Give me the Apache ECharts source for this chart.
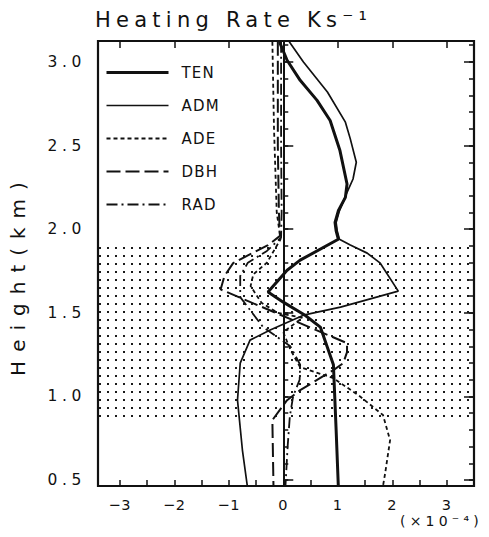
<!DOCTYPE html>
<html>
<head>
<meta charset="utf-8">
<script src="https://cdn.jsdelivr.net/npm/echarts@6/dist/echarts.min.js"></script>
<style>
  html, body { margin: 0; padding: 0; background: #fff; }
  #chart { width: 489px; height: 537px; }
  /* plotter-style wide lettering */
  #chart text { letter-spacing: 0.3em; }
  #chart text[style*="15px"] { letter-spacing: 0.08em; }
  #chart text[style*="14.5px"] { letter-spacing: 0.04em; }
  #chart text[style*="20px"] { letter-spacing: 0.45em; }
  #chart text[style*="21px"] { letter-spacing: 0.25em; }
</style>
</head>
<body>
<div id="chart"></div>
<script>
// heating rate profiles, x in 1e-4 K/s, height in km
const tenH = [3.12, 3.01, 2.89, 2.77, 2.65, 2.47, 2.27, 2.19, 2.11, 2.04, 1.99, 1.94, 1.815, 1.755, 1.624, 1.564, 1.486, 1.415, 1.19, 0.80, 0.465];
const tenX = [-0.07, 0.07, 0.31, 0.62, 0.86, 1.04, 1.17, 1.14, 1.01, 0.95, 0.97, 1.01, 0.31, 0.07, -0.28, 0.0, 0.40, 0.68, 0.92, 0.97, 1.01];

const admH = [3.12, 3.0, 2.82, 2.64, 2.54, 2.40, 2.30, 2.22, 2.11, 2.04, 1.99, 1.94, 1.905, 1.857, 1.797, 1.63, 1.534, 1.486, 1.397, 1.337, 1.199, 0.978, 0.68, 0.465];
const admX = [0.11, 0.37, 0.81, 1.14, 1.23, 1.34, 1.28, 1.17, 1.03, 0.97, 0.99, 1.03, 1.23, 1.54, 1.78, 2.11, 1.05, 0.37, -0.24, -0.61, -0.79, -0.84, -0.75, -0.66];

const adeH = [3.12, 2.6, 2.1, 1.94, 1.80, 1.73, 1.66, 1.56, 1.50, 1.47, 1.385, 1.28, 1.175, 1.11, 1.0, 0.889, 0.739, 0.542, 0.465];
const adeX = [-0.2, -0.17, -0.12, -0.05, -0.3, -0.55, -0.6, -0.4, -0.1, 0.35, 0.0, 0.13, 0.31, 0.92, 1.41, 1.83, 1.96, 1.87, 1.83];

const dbhH = [3.12, 2.5, 2.1, 1.96, 1.905, 1.845, 1.797, 1.72, 1.64, 1.319, 1.265, 1.199, 1.158, 1.038, 0.978, 0.859, 0.465];
const dbhX = [-0.1, -0.1, -0.08, -0.06, -0.28, -0.64, -0.92, -1.08, -1.15, 1.17, 1.17, 1.10, 0.92, 0.31, 0.07, -0.2, -0.18];

const radH = [3.12, 2.5, 2.1, 1.95, 1.87, 1.80, 1.72, 1.594, 1.415, 1.30, 1.19, 1.10, 1.0, 0.88, 0.70, 0.465];
const radX = [-0.04, -0.04, -0.03, -0.04, -0.3, -0.65, -0.79, -0.79, -0.37, 0.13, 0.31, 0.30, 0.18, 0.12, 0.08, 0.04];

// stippled layer
const layerBottom = 0.87;
const layerTop = 1.895;

const xTickLabels = [-3, -2, -1, 0, 1, 2, 3];
const xMinorTicks = [-3, -2.5, -2, -1.5, -1, -0.5, 0, 0.5, 1, 1.5, 2, 2.5, 3];
const yTickLabels = [0.5, 1.0, 1.5, 2.0, 2.5, 3.0];
const yMinorTicks = [0.5, 0.6, 0.7, 0.8, 0.9, 1.0, 1.1, 1.2, 1.3, 1.4, 1.5, 1.6, 1.7, 1.8, 1.9,
  2.0, 2.1, 2.2, 2.3, 2.4, 2.5, 2.6, 2.7, 2.8, 2.9, 3.0, 3.1];

const ink = "#111";
const font = "DejaVu Sans";

function pairs(xs, hs) {
  return xs.map((x, i) => [x, hs[i]]);
}

// dot tile for the stippling
const tile = document.createElement("canvas");
tile.width = 8;
tile.height = 8;
const tctx = tile.getContext("2d");
tctx.fillStyle = "#1a1a1a";
tctx.fillRect(3, 7, 2, 1);
tctx.fillRect(3, 0, 2, 1);

const xRange = { min: -3.4, max: 3.5 };
const yRange = { min: 0.465, max: 3.125 };

function tickAxis(extra) {
  return Object.assign({
    type: "value",
    axisLine: { show: false },
    splitLine: { show: false },
    axisLabel: { show: false }
  }, extra);
}

function lineSeries(name, data, width, type) {
  return {
    name: name,
    type: "line",
    data: data,
    showSymbol: false,
    symbol: "none",
    silent: true,
    lineStyle: { color: ink, width: width, type: type },
    itemStyle: { color: ink }
  };
}

const chart = echarts.init(document.getElementById("chart"), null, { renderer: "svg" });

const series = [
  lineSeries("TEN", pairs(tenX, tenH), 3, "solid"),
  lineSeries("ADM", pairs(admX, admH), 1.7, "solid"),
  lineSeries("ADE", pairs(adeX, adeH), 1.8, [4, 3]),
  lineSeries("DBH", pairs(dbhX, dbhH), 2, [14, 5]),
  lineSeries("RAD", pairs(radX, radH), 1.8, [11, 4, 2, 4])
];
series[0].markLine = {
  silent: true,
  symbol: ["none", "none"],
  label: { show: false },
  lineStyle: { color: ink, width: 2, type: "solid" },
  data: [{ xAxis: 0 }]
};
series[0].markArea = {
  silent: true,
  itemStyle: {
    color: { image: tile, repeat: "repeat", imageWidth: 8, imageHeight: 8 }
  },
  data: [[{ yAxis: layerBottom }, { yAxis: layerTop }]]
};

chart.setOption({
  animation: false,
  backgroundColor: "#fff",
  textStyle: { fontFamily: font, color: ink },
  title: {
    text: "Heating Rate Ks⁻¹",
    left: 90,
    top: 4,
    textStyle: { fontFamily: font, fontSize: 21, fontWeight: "normal", color: ink }
  },
  legend: {
    orient: "vertical",
    left: 100,
    top: 60,
    itemWidth: 62,
    itemHeight: 14,
    itemGap: 18,
    selectedMode: false,
    itemStyle: { opacity: 0, borderWidth: 0 },
    lineStyle: { width: "inherit" },
    textStyle: { fontFamily: font, fontSize: 15, color: ink, padding: [0, 0, 0, 8] },
    data: ["TEN", "ADM", "ADE", "DBH", "RAD"]
  },
  grid: {
    left: 97,
    right: 15,
    top: 41,
    bottom: 51,
    show: true,
    borderColor: ink,
    borderWidth: 2.2,
    backgroundColor: "transparent"
  },
  xAxis: [
    tickAxis(Object.assign({
      position: "bottom",
      axisTick: { inside: true, length: 6, customValues: xMinorTicks, lineStyle: { color: ink, width: 1.5 } },
      axisLabel: {
        show: true,
        customValues: xTickLabels,
        margin: 11,
        fontSize: 14.5,
        fontFamily: font,
        color: ink,
        formatter: v => (v < 0 ? "−" + Math.abs(v) : String(v))
      }
    }, xRange)),
    tickAxis(Object.assign({
      position: "top",
      axisTick: { inside: true, length: 7, customValues: xTickLabels, lineStyle: { color: ink, width: 1.5 } }
    }, xRange))
  ],
  yAxis: [
    tickAxis(Object.assign({
      position: "left",
      name: "Height(km)",
      nameLocation: "middle",
      nameGap: 70,
      nameTextStyle: { fontFamily: font, fontSize: 20, color: ink, padding: [0, 22, 0, 0] },
      axisTick: { inside: true, length: 5, customValues: yMinorTicks, lineStyle: { color: ink, width: 1.5 } },
      axisLabel: {
        show: true,
        customValues: yTickLabels,
        margin: 12,
        fontSize: 15.5,
        fontFamily: font,
        color: ink,
        formatter: v => v.toFixed(1)
      }
    }, yRange)),
    tickAxis(Object.assign({
      position: "left",
      axisTick: { inside: true, length: 10, customValues: yTickLabels, lineStyle: { color: ink, width: 1.5 } }
    }, yRange)),
    tickAxis(Object.assign({
      position: "right",
      axisTick: { inside: true, length: 5, customValues: yMinorTicks, lineStyle: { color: ink, width: 1.5 } }
    }, yRange)),
    tickAxis(Object.assign({
      position: "right",
      axisTick: { inside: true, length: 10, customValues: yTickLabels, lineStyle: { color: ink, width: 1.5 } }
    }, yRange))
  ],
  graphic: [{
    type: "text",
    left: 400,
    top: 514,
    style: { text: "(×10⁻⁴)", fontFamily: font, fontSize: 14, fill: ink }
  }],
  series: series
});
</script>
</body>
</html>
